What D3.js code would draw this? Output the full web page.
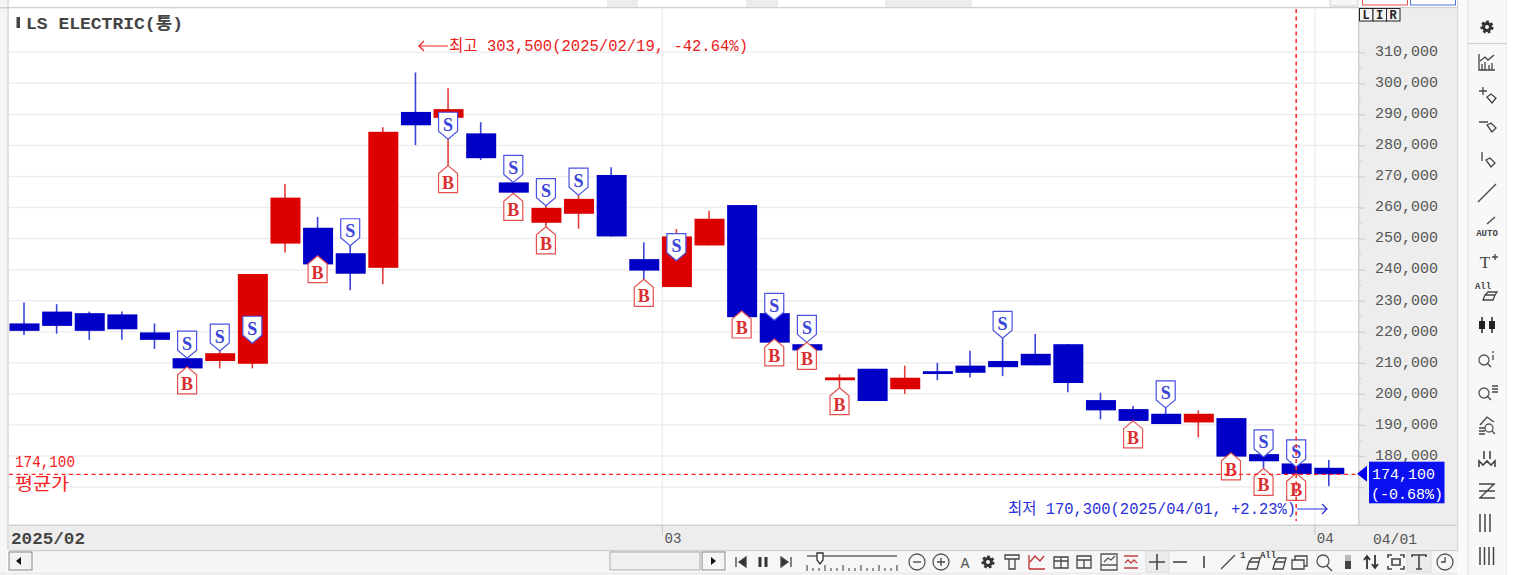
<!DOCTYPE html>
<html lang="ko"><head><meta charset="utf-8">
<style>
html,body{margin:0;padding:0;background:#fff;overflow:hidden}
svg{display:block}
text{font-family:"Liberation Mono","Noto Sans CJK KR",monospace;}
</style>
<script src="https://cdn.jsdelivr.net/npm/d3@7/dist/d3.min.js"></script>
</head><body>
<svg id="c" width="1514" height="575"></svg>
<script>
const title = "LS ELECTRIC(통)";
const dates = ["02/03","02/04","02/05","02/06","02/07","02/10","02/11","02/12","02/13","02/14","02/17","02/18","02/19","02/20","02/21","02/24","02/25","02/26","02/27","02/28",
"03/04","03/05","03/06","03/07","03/10","03/11","03/12","03/13","03/14","03/17","03/18","03/19","03/20","03/21","03/24","03/25","03/26","03/27","03/28","03/31","04/01"];
const opens  = [222700,226500,226000,225600,219800,211500,210600,209700,248400,253500,245300,240600,290800,288900,283900,268100,255100,258000,270500,243400,
234400,247800,260800,226000,216000,204400,208100,201500,207300,209100,210600,212900,216000,198000,195100,193600,190800,192200,180600,177600,176200];
const highs  = [229400,228900,226500,226500,222700,212800,213800,238600,267600,257000,247900,285900,303500,298400,287500,268600,261100,264000,273000,248800,
253100,259000,260800,226000,216600,206300,208100,209100,210000,213900,217900,219300,216000,200400,196100,195500,194700,192200,180600,177600,178700];
const lows   = [219000,219400,217400,217400,214500,207000,208200,208200,245500,241700,233400,235300,280100,273500,275300,264600,253800,253200,250700,236900,
234400,247800,224700,216500,214000,202000,197700,200000,204400,205300,205700,209200,200500,191800,191300,190300,186000,179800,176000,174000,170300];
const closes = [220300,221900,220300,220800,217400,208200,213100,238600,263200,241700,238700,284400,286500,291700,275900,264800,259900,262800,250700,239700,
250700,256400,224700,216500,214000,205300,197700,205200,206400,206800,208600,209200,203500,194700,191300,190300,193600,179800,178300,174200,174100];
const sellDates  = ["02/10","02/11","02/12","02/17","02/20","02/24","02/25","02/26","03/04","03/07","03/10","03/18","03/25","03/28","03/31"];
const sellPrices = [211500,213800,216300,247700,282000,268100,260600,264000,242900,223700,216600,217900,195500,179700,176500];
const buyDates   = ["02/10","02/14","02/20","02/24","02/25","02/28","03/06","03/07","03/10","03/11","03/24","03/27","03/28","03/31"];
const buyPrices  = [208700,244500,273500,264600,253800,236900,226700,217700,216600,202000,191300,181000,176000,174400];
const yTicks  = [310000,300000,290000,280000,270000,260000,250000,240000,230000,220000,210000,200000,190000,180000,170000];
const yLabels = [310000,300000,290000,280000,270000,260000,250000,240000,230000,220000,210000,200000,190000,180000];
const yMinor  = [305000,295000,285000,275000,265000,255000,245000,235000,225000,215000,205000,195000,185000,175000];
const monthStarts = ["03/04","04/01"];
const monthLabels = ["03","04"];
const avgPrice = 174100, lastPrice = 174100, lastPct = "-0.68%";
const highLabel = "최고 303,500(2025/02/19, -42.64%)";
const lowLabel  = "최저 170,300(2025/04/01, +2.23%)";

const BLUE="#0000c6", RED="#dc0000", WBLUE="#3a44d8", WRED="#e23c3c";
const svg=d3.select("#c");
const rect=(x,y,w,h,f,s)=>svg.append("rect").attr("x",x).attr("y",y).attr("width",w).attr("height",h).attr("fill",f).attr("stroke",s||"none");

// window chrome
rect(0,0,1514,575,"#fff");
rect(0,0,7,575,"#f6f6f6");
rect(7,0,2,550,"#e0e0e0");
[[607,31],[746,32],[885,87]].forEach(d=>rect(d[0],0,d[1],7,"#ececec"));
rect(0,7,1458,1.5,"#d0d0d0");
rect(1330,-2,28,8,"#f6f6f6","#ccc");
rect(1362.5,-2,45,7,"#fff","#e85050");
rect(1410.5,-2,45,7,"#fff","#4a70e0");
rect(9,8.5,1349,517,"#fff");
rect(1358,8.5,99,542,"#ededed");
rect(1358,8.5,1.5,542,"#d0d0d0");
rect(9,525,1449,25,"#ededed");
rect(9,524.5,1449,1.5,"#d0d0d0");
rect(1457,0,1.5,551,"#d8d8d8");
rect(1458.5,0,55.5,575,"#fafafa");
rect(1468,-2,39,580,"#f8f8f8","#dcdcdc");
rect(1468,43,39,1.2,"#cfcfcf");
rect(1507,0,7,575,"#fff");

// scales
const y=d3.scaleLinear().domain([310000,180000]).range([52.3,456]);
const x=d3.scaleBand().domain(dates).range([7.7,1345.1]).paddingInner(.08).paddingOuter(.04);
const bw=x.bandwidth(), cx=d=>x(d)+bw/2;

// grid
const plot=svg.append("g");
plot.selectAll("line.h").data(yTicks).join("line").attr("class","h")
 .attr("x1",9).attr("x2",1358).attr("y1",d=>y(d)).attr("y2",d=>y(d)).attr("stroke","#eeeeee").attr("stroke-width",1.5);
plot.selectAll("line.v").data(monthStarts).join("line").attr("class","v")
 .attr("x1",d=>x(d)+1).attr("x2",d=>x(d)+1).attr("y1",9).attr("y2",524).attr("stroke","#eeeeee").attr("stroke-width",1.5);

// y axis
const ax=svg.append("g").attr("transform","translate(1358,0)")
 .call(d3.axisRight(y).tickValues(yTicks).tickSize(7).tickFormat(d=>yLabels.includes(d)?d3.format(",")(d):""));
ax.select(".domain").remove();
ax.selectAll("line").attr("stroke","#cfcfcf").attr("stroke-width",1.2);
ax.selectAll("text").attr("x",17).attr("y",-1.5).attr("fill","#555").style("font-size","15px");
svg.append("g").selectAll("line").data(yMinor).join("line")
 .attr("x1",1358).attr("x2",1362).attr("y1",d=>y(d)).attr("y2",d=>y(d)).attr("stroke","#d4d4d4");

// LIR
["L","I","R"].forEach((t,i)=>{
 rect(1359.5+i*13.5,8.5,13.5,12.5,"#f4f4f4","#222");
 svg.append("text").attr("x",1366.2+i*13.5).attr("y",19).attr("text-anchor","middle").attr("font-weight","bold").attr("font-size",12).attr("fill","#222").text(t);
});

// candles
const candles=svg.append("g");
const rows=dates.map((d,i)=>({d,o:opens[i],h:highs[i],l:lows[i],c:closes[i]}));
candles.selectAll("line").data(rows).join("line")
 .attr("x1",r=>cx(r.d)).attr("x2",r=>cx(r.d)).attr("y1",r=>y(r.h)).attr("y2",r=>y(r.l))
 .attr("stroke",r=>r.c>r.o?WRED:WBLUE).attr("stroke-width",1.6);
candles.selectAll("rect").data(rows).join("rect")
 .attr("x",r=>x(r.d)+.5).attr("width",bw)
 .attr("y",r=>y(Math.max(r.o,r.c))).attr("height",r=>Math.max(2,Math.abs(y(r.o)-y(r.c))))
 .attr("fill",r=>r.c>r.o?RED:BLUE);

// signals
const W=9.5,H=27,SH=8;
const sell=svg.append("g").selectAll("g").data(sellDates.map((d,i)=>({d,p:sellPrices[i]}))).join("g")
 .attr("transform",r=>`translate(${cx(r.d)},${y(r.p)})`);
sell.append("path").attr("d",`M0,0L${W},${-SH}V${-H}H${-W}V${-SH}Z`).attr("fill","#fff").attr("stroke","#4a52e0").attr("stroke-width",1.2);
sell.append("text").attr("x",0).attr("y",-8.5).attr("text-anchor","middle").attr("fill","#3a44d8").attr("font-size",18).attr("font-weight","bold").style("font-family","'Liberation Serif',serif").text("S");
const buy=svg.append("g").selectAll("g").data(buyDates.map((d,i)=>({d,p:buyPrices[i]}))).join("g")
 .attr("transform",r=>`translate(${cx(r.d)},${y(r.p)})`);
buy.append("path").attr("d",`M0,0L${W},${SH}V${H}H${-W}V${SH}Z`).attr("fill","#fff").attr("stroke","#e25050").attr("stroke-width",1.2);
buy.append("text").attr("x",0).attr("y",23).attr("text-anchor","middle").attr("fill","#d83030").attr("font-size",18).attr("font-weight","bold").style("font-family","'Liberation Serif',serif").text("B");

// reference lines
svg.append("line").attr("x1",9).attr("x2",1357).attr("y1",y(avgPrice)).attr("y2",y(avgPrice)).attr("stroke","#ff2222").attr("stroke-width",1.3).attr("stroke-dasharray","4 3.5");
svg.append("line").attr("x1",cx("03/31")).attr("x2",cx("03/31")).attr("y1",9).attr("y2",521).attr("stroke","#ff2222").attr("stroke-width",1.5).attr("stroke-dasharray","4 3.5");

const txt=(t,px,py,size,fill,o={})=>{const e=svg.append("text").attr("x",px).attr("y",py).attr("font-size",size).attr("fill",fill).text(t);
 if(o.w)e.attr("textLength",o.w).attr("lengthAdjust","spacingAndGlyphs"); if(o.b)e.attr("font-weight","bold"); return e;};
// title
rect(16.5,17,3.5,11,"#444");
txt(title,26,29,17,"#444",{b:1,w:157});
// avg
txt(d3.format(",")(avgPrice),15,467,16,"#f52020",{w:60});
txt("평균가",15,490,17,"#f52020",{w:54});
// high / low annotations
const arrow=(x1,x2,py,c,dir)=>{
 svg.append("path").attr("fill","none").attr("stroke",c).attr("stroke-width",1.2)
  .attr("d",`M${x1},${py}H${x2}M${dir<0?x1+5:x2-5},${py-5}L${dir<0?x1:x2},${py}L${dir<0?x1+5:x2-5},${py+5}`);
};
arrow(419,448,46,"#ee2020",-1);
txt(highLabel,449,51,16,"#e82020",{w:299});
txt(lowLabel,1008,514,16,"#2a30d8",{w:288});
arrow(1297,1327,509,"#2a30d8",1);

// x labels
txt("2025/02",11,544,17,"#444",{b:1,w:74});
monthStarts.forEach((d,i)=>{
 svg.append("line").attr("x1",x(d)+1).attr("x2",x(d)+1).attr("y1",525).attr("y2",535).attr("stroke","#ccc").attr("stroke-width",1.2);
 txt(monthLabels[i],x(d)+3,543,15,"#555",{w:17});
});
txt("04/01",1373,544,15,"#555",{w:44});

// price box
svg.append("path").attr("d",`M1357,${y(lastPrice)-0.5}l10,-8v16z`).attr("fill","#0000ee");
rect(1369,461.7,75.5,41.6,"#0a10f0");
txt(d3.format(",")(lastPrice),1372,479,15.5,"#fff",{w:63});
txt("("+lastPct+")",1371,499,15.5,"#fff",{w:72});

// scrollbar + bottom bar
rect(9,550,1449,1.5,"#cfcfcf");
rect(9,551.5,600,20,"#f4f4f4");
rect(9,552,23,18,"#f3f3f3","#888");
svg.append("path").attr("d","M16,561l5,-4v8z").attr("fill","#111");
rect(610,552,90,18,"#f0f0f0","#aaa");
rect(702,552,23,18,"#f5f5f5","#888");
svg.append("path").attr("d","M711,557l5,4l-5,4z").attr("fill","#111");
rect(0,572,1458,3,"#eeeeee");
rect(727,551.5,731,20,"#f6f6f6");
rect(1146,551,23,21,"#ececec","#dcdcdc");
rect(1407,551,24,21,"#ececec","#dcdcdc");

// toolbar icons
const icon=(px,py,d,o={})=>svg.append("path").attr("transform",`translate(${px},${py})`).attr("d",d)
 .attr("fill",o.f||"none").attr("stroke",o.s||"#444").attr("stroke-width",o.w||1.3);
const circ=(px,py,r,s,w,da)=>svg.append("circle").attr("cx",px).attr("cy",py).attr("r",r).attr("fill","none").attr("stroke",s||"#555").attr("stroke-width",w||1.3).attr("stroke-dasharray",da||null);
const gear=(px,py,r)=>{circ(px,py,r,"#333",3);circ(px,py,r+1.8,"#333",2.6,"2.6 2.1");};
const tiny=(t,px,py)=>svg.append("text").attr("x",px).attr("y",py).attr("text-anchor","middle").attr("font-size",9).attr("font-weight","bold").attr("fill","#444").text(t);
const Y=562;
icon(741,Y,"M-5,-5V5M5,-5L-2,0L5,5Z",{f:"#333"});
icon(763,Y,"M-3,-5V5M3,-5V5",{w:3,s:"#333"});
icon(786,Y,"M5,-5V5M-5,-5L2,0L-5,5Z",{f:"#333"});
icon(0,0,"M807,556H897",{s:"#666"});
icon(820,557,"M-3,-4H3V3L0,7L-3,3Z",{f:"#fff",s:"#333"});
svg.append("g").selectAll("line").data(d3.range(0,16)).join("line").attr("x1",i=>807+i*6).attr("x2",i=>807+i*6).attr("y1",i=>i%3?568:565).attr("y2",571).attr("stroke","#333");
circ(917,Y,8);icon(917,Y,"M-4,0H4");
circ(941,Y,8);icon(941,Y,"M-4,0H4M0,-4V4");
svg.append("text").attr("x",965).attr("y",Y+6).attr("text-anchor","middle").attr("font-size",15).attr("fill","#555").text("A");
gear(988,Y,3.5);
icon(1012,Y,"M-7,-7H7V-3H-7ZM-3,-3V7H3V-3");
icon(1037,Y,"M-8,7V-7M-8,7H8M-7,0L-2,-6L3,-1L7,-6",{s:"#c03030"});
icon(1061,Y,"M-7,-5H7V6H-7ZM-7,-1H7M0,-5V6");
icon(1084,Y,"M-7,-6H7V6H-7ZM-7,-2H7M0,-2V6");
icon(1109,Y,"M-8,-8H8V8H-8ZM-8,3H8M-5,0L-1,-4L2,-2L6,-6",{s:"#555"});
icon(1131,Y,"M-7,-6H7M-7,6H7M-6,1L-3,-2L0,1L3,-2L6,1",{s:"#c04040"});
icon(1157,Y,"M-8,0H8M0,-8V8",{w:1.6});
icon(1180,Y,"M-7,0H7",{w:1.6});
icon(1204,Y,"M0,-6V6",{w:1.6});
icon(1228,Y,"M-7,7L7,-7");
tiny("1",1243,558);
icon(1251,Y,"M-4,7L-2,0H8L6,7ZM-2,0L1,-4H9L8,0");
tiny("All",1268,558);
icon(1277,Y,"M-4,7L-2,0H8L6,7ZM-2,0L1,-4H9L8,0");
icon(1299,Y,"M-7,-2H5V7H-7ZM-4,-2V-6H8V4H5");
circ(1323,Y-1,6);icon(1323,Y,"M4,4L9,9");
rect(1345,555,6,14,"#444");rect(1345,555,6,6,"#bbb");
icon(1371,Y,"M-4,7V-5M-7,-2L-4,-6L-1,-2M4,-7V5M1,2L4,6L7,2",{w:1.8,s:"#333"});
icon(1396,Y,"M-8,-4V-7H-4M4,-7H8V-4M8,4V7H4M-4,7H-8V4M-4,-3H4V3H-4Z",{w:1.6});
icon(1419,Y,"M-7,-5V-7H7V-5M0,-7V7M-3,7H3",{w:1.6});
circ(1445,Y,8);icon(1445,Y,"M0,-5V0H-4");
// right toolbar
const RX=1487;
gear(RX,27,3.5);
icon(RX,62,"M-8,-8V8H8M-5,8V2M-2,8V0M2,8V3M5,8V1M-7,-1L-2,-5L1,-2L7,-7");
icon(RX,94,"M-8,-3H0M-4,-7V1M0,3L4,0L9,4L5,9Z");
icon(RX,128,"M-8,-6H1M0,-3L4,-5L9,0L5,4Z");
icon(RX,160,"M-5,-8V1M-1,0L3,-2L8,3L4,7Z");
icon(RX,193,"M-9,9L9,-9");
icon(RX+1,224,"M-1,0L7,-7");
tiny("AUTO",RX,236);
svg.append("text").attr("x",RX-2).attr("y",268).attr("text-anchor","middle").attr("font-size",17).attr("fill","#444").style("font-family","'Liberation Serif',serif").text("T");
icon(RX+8,257,"M-3,0H3M0,-3V3");
tiny("All",RX-4,289);
icon(RX+2,296,"M-6,4L-4,-1H6L4,4ZM-4,-1L-1,-4H8L6,-1");
icon(RX,325,"M-5,-8V8M5,-8V8",{w:1.5,s:"#222"});icon(RX,325,"M-5,-4V4M5,-4V4",{w:6,s:"#222"});
circ(RX-3,360,5);icon(RX-3,360,"M3,3L7,7M9,-9V-7M9,-5V0");
circ(RX-3,393,5);icon(RX-3,393,"M3,3L7,7M8,-7H14M8,-4H14M8,-1H14");
circ(RX+2,428,4);icon(RX,425,"M-7,0L0,-8L7,-3M-8,3H-2M-8,6H-2M-8,9H-2M5,6L8,9");
icon(RX,460,"M-8,7V1L-4,5L0,1L4,5L8,1V7M-3,-9V-1M3,-9V-1",{w:1.6});
icon(RX,491,"M-8,-7H8M-8,0H8M-8,7H8M7,-7L-7,7",{w:1.4});
icon(RX,523,"M-7,-9V9M-2,-9V9M3,-9V9",{w:1.5});
icon(RX,556,"M-7,-9V9M-2.5,-9V9M2,-9V9M6.5,-9V9",{w:1.5});
</script>
</body></html>
